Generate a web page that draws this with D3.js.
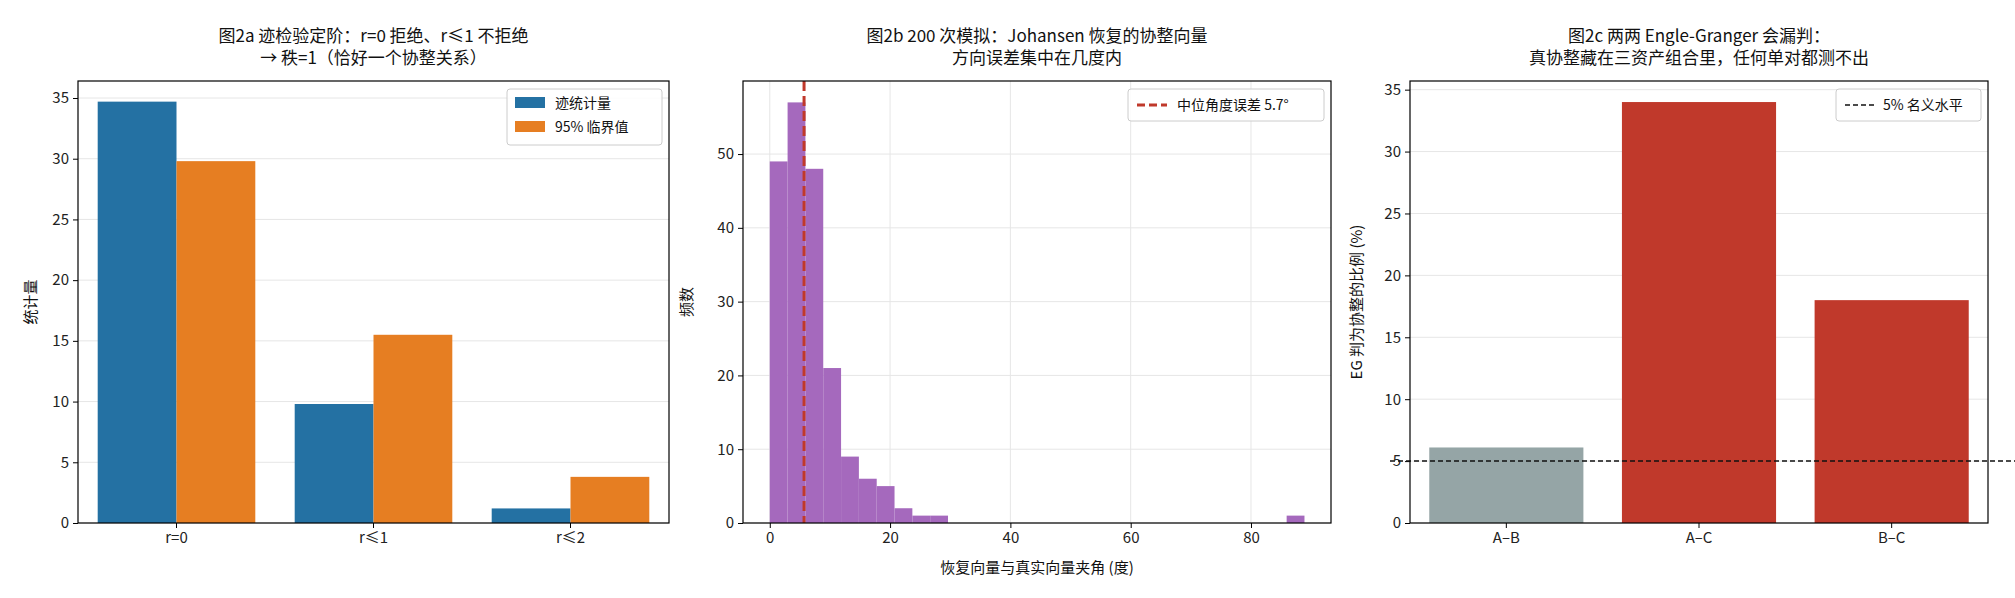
<!DOCTYPE html>
<html><head><meta charset="utf-8">
<script src="https://cdn.jsdelivr.net/npm/d3@7"></script>
<style>
body{margin:0;background:#fff;font-family:"Noto Sans CJK SC","Noto Sans",sans-serif;}
text{font-family:"Noto Sans CJK SC","Noto Sans",sans-serif;}
</style></head><body>
<svg id="chart" width="2015" height="598"></svg>
<script>
// panel a: trace test
const rankLabels = ['r=0', 'r≤1', 'r≤2'];
const traceStat = [34.7, 9.8, 1.2];
const critVal95 = [29.8, 15.5, 3.8];

// panel b: histogram of angle error (30 bins, 0 .. 88.9 deg)
const binWidth = 2.963;
const binCounts = [49, 57, 48, 21, 9, 6, 5, 2, 1, 1, 0, 0, 0, 0, 0, 0, 0, 0, 0, 0, 0, 0, 0, 0, 0, 0, 0, 0, 0, 1];
const medianAngle = 5.7;

// panel c: Engle-Granger pairwise rejection rate
const pairs = ['A–B', 'A–C', 'B–C'];
const egRate = [6.1, 34.0, 18.0];
const pairColors = ['#95a5a6', '#c0392b', '#c0392b'];
const nominal = 5;

const svg = d3.select('#chart');
const plotTop = 81, plotBottom = 523;

function frame(g, x0, x1) {
  g.append('rect').attr('x', x0).attr('y', plotTop).attr('width', x1 - x0).attr('height', plotBottom - plotTop)
    .attr('fill', 'none').attr('stroke', '#000').attr('stroke-width', 1.2);
}
function yAxis(g, y, x0, x1, ticks) {
  g.append('g').selectAll('line').data(ticks).join('line')
    .attr('x1', x0).attr('x2', x1).attr('y1', d => y(d)).attr('y2', d => y(d))
    .attr('stroke', '#e6e6e6').attr('stroke-width', 1);
  g.append('g').attr('transform', `translate(${x0},0)`)
    .call(d3.axisLeft(y).tickValues(ticks).tickSize(5).tickPadding(4))
    .call(a => a.select('.domain').remove())
    .call(a => a.selectAll('text').attr('font-size', 15).attr('fill', '#222'));
}
function title(g, cx, lines) {
  lines.forEach((t, i) => g.append('text').attr('x', cx).attr('y', 42 + i * 22)
    .attr('text-anchor', 'middle').attr('font-size', 17).attr('fill', '#111').text(t));
}
function ylabel(g, x, text) {
  g.append('text').attr('transform', `translate(${x},${(plotTop + plotBottom) / 2}) rotate(-90)`)
    .attr('text-anchor', 'middle').attr('font-size', 15).attr('fill', '#111').text(text);
}
function legendBox(g, x, y, w, h) {
  g.append('rect').attr('x', x).attr('y', y).attr('width', w).attr('height', h).attr('rx', 3)
    .attr('fill', 'rgba(255,255,255,0.85)').attr('stroke', '#ccc');
}

// ---- panel a
{
  const g = svg.append('g');
  const x0 = 78, x1 = 669;
  const x = d3.scaleBand().domain(rankLabels).range([x0, x1]).paddingInner(0.2).paddingOuter(0.1);
  const y = d3.scaleLinear().domain([0, 36.4]).range([plotBottom, plotTop]);
  yAxis(g, y, x0, x1, [0, 5, 10, 15, 20, 25, 30, 35]);
  const bw = x.bandwidth() / 2;
  g.selectAll('.t').data(traceStat).join('rect').attr('x', (d, i) => x(rankLabels[i]))
    .attr('y', d => y(d)).attr('width', bw).attr('height', d => plotBottom - y(d)).attr('fill', '#2471a3');
  g.selectAll('.c').data(critVal95).join('rect').attr('x', (d, i) => x(rankLabels[i]) + bw)
    .attr('y', d => y(d)).attr('width', bw).attr('height', d => plotBottom - y(d)).attr('fill', '#e67e22');
  g.append('g').attr('transform', `translate(0,${plotBottom})`)
    .call(d3.axisBottom(x).tickSize(5).tickPadding(4))
    .call(a => a.select('.domain').remove())
    .call(a => a.selectAll('text').attr('font-size', 15).attr('fill', '#222'));
  frame(g, x0, x1);
  title(g, (x0 + x1) / 2, ['图2a  迹检验定阶：r=0 拒绝、r≤1 不拒绝', '→ 秩=1（恰好一个协整关系）']);
  ylabel(g, 36, '统计量');
  legendBox(g, 507, 89, 155, 56);
  [['迹统计量', '#2471a3'], ['95% 临界值', '#e67e22']].forEach(([t, c], i) => {
    g.append('rect').attr('x', 515).attr('y', 97 + i * 24).attr('width', 30).attr('height', 11).attr('fill', c);
    g.append('text').attr('x', 555).attr('y', 108 + i * 24).attr('font-size', 14).attr('fill', '#111').text(t);
  });
}

// ---- panel b
{
  const g = svg.append('g');
  const x0 = 743, x1 = 1331;
  const x = d3.scaleLinear().domain([-4.45, 93.3]).range([x0, x1]);
  const y = d3.scaleLinear().domain([0, 59.9]).range([plotBottom, plotTop]);
  yAxis(g, y, x0, x1, [0, 10, 20, 30, 40, 50]);
  g.append('g').selectAll('line').data([0, 20, 40, 60, 80]).join('line')
    .attr('x1', d => x(d)).attr('x2', d => x(d)).attr('y1', plotTop).attr('y2', plotBottom)
    .attr('stroke', '#e6e6e6');
  g.selectAll('.h').data(binCounts).join('rect')
    .attr('x', (d, i) => x(i * binWidth)).attr('width', (d, i) => x((i + 1) * binWidth) - x(i * binWidth))
    .attr('y', d => y(d)).attr('height', d => plotBottom - y(d)).attr('fill', '#a569bd')
    .attr('visibility', d => d > 0 ? 'visible' : 'hidden');
  g.append('line').attr('x1', x(medianAngle)).attr('x2', x(medianAngle)).attr('y1', plotTop).attr('y2', plotBottom)
    .attr('stroke', '#c0392b').attr('stroke-width', 3).attr('stroke-dasharray', '10,5');
  g.append('g').attr('transform', `translate(0,${plotBottom})`)
    .call(d3.axisBottom(x).tickValues([0, 20, 40, 60, 80]).tickSize(5).tickPadding(4))
    .call(a => a.select('.domain').remove())
    .call(a => a.selectAll('text').attr('font-size', 15).attr('fill', '#222'));
  frame(g, x0, x1);
  title(g, (x0 + x1) / 2, ['图2b  200 次模拟：Johansen 恢复的协整向量', '方向误差集中在几度内']);
  ylabel(g, 692, '频数');
  g.append('text').attr('x', (x0 + x1) / 2).attr('y', 573).attr('text-anchor', 'middle')
    .attr('font-size', 15).attr('fill', '#111').text('恢复向量与真实向量夹角 (度)');
  legendBox(g, 1128, 89, 196, 32);
  g.append('line').attr('x1', 1137).attr('x2', 1167).attr('y1', 105).attr('y2', 105)
    .attr('stroke', '#c0392b').attr('stroke-width', 3).attr('stroke-dasharray', '8,4');
  g.append('text').attr('x', 1177).attr('y', 110).attr('font-size', 14).attr('fill', '#111').text('中位角度误差 5.7°');
}

// ---- panel c
{
  const g = svg.append('g');
  const x0 = 1410, x1 = 1988;
  const x = d3.scaleBand().domain(pairs).range([x0, x1]).paddingInner(0.2).paddingOuter(0.1);
  const y = d3.scaleLinear().domain([0, 35.7]).range([plotBottom, plotTop]);
  yAxis(g, y, x0, x1, [0, 5, 10, 15, 20, 25, 30, 35]);
  g.selectAll('.b').data(egRate).join('rect').attr('x', (d, i) => x(pairs[i]))
    .attr('y', d => y(d)).attr('width', x.bandwidth()).attr('height', d => plotBottom - y(d))
    .attr('fill', (d, i) => pairColors[i]);
  g.append('line').attr('x1', x0 - 20).attr('x2', 2015).attr('y1', y(nominal)).attr('y2', y(nominal))
    .attr('stroke', '#111').attr('stroke-width', 1.5).attr('stroke-dasharray', '5,3');
  g.append('g').attr('transform', `translate(0,${plotBottom})`)
    .call(d3.axisBottom(x).tickSize(5).tickPadding(4))
    .call(a => a.select('.domain').remove())
    .call(a => a.selectAll('text').attr('font-size', 15).attr('fill', '#222'));
  frame(g, x0, x1);
  title(g, (x0 + x1) / 2, ['图2c  两两 Engle-Granger 会漏判：', '真协整藏在三资产组合里，任何单对都测不出']);
  ylabel(g, 1362, 'EG 判为协整的比例 (%)');
  legendBox(g, 1836, 89, 145, 32);
  g.append('line').attr('x1', 1845).attr('x2', 1874).attr('y1', 105).attr('y2', 105)
    .attr('stroke', '#111').attr('stroke-width', 1.5).attr('stroke-dasharray', '5,3');
  g.append('text').attr('x', 1883).attr('y', 110).attr('font-size', 14).attr('fill', '#111').text('5% 名义水平');
}
</script>
</body></html>
